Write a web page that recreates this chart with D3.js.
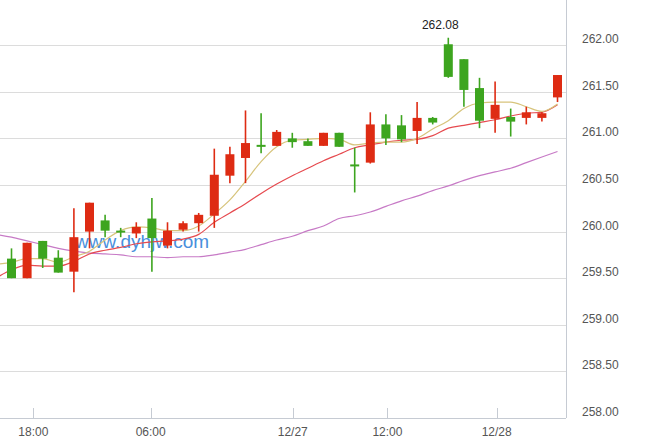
<!DOCTYPE html>
<html><head><meta charset="utf-8">
<script src="https://cdn.jsdelivr.net/npm/d3@7"></script>
<style>html,body{margin:0;padding:0;background:#fff;}svg{display:block;}</style>
</head><body>
<svg id="chart" width="652" height="442"></svg>
<script>
// ---- data ----
const opens  = [259.71,259.50,259.90,259.72,259.57,260.00,260.12,260.00,259.98,260.14,259.85,260.02,260.09,260.17,260.60,260.79,260.92,260.92,261.00,260.97,260.92,261.06,260.71,260.74,261.15,261.14,261.08,261.22,262.01,261.85,261.54,261.21,261.23,261.22,261.22,261.44];
const highs  = [259.82,259.88,259.90,259.80,260.25,260.31,260.18,260.04,260.10,260.36,260.10,260.11,260.20,260.89,260.91,261.30,261.27,261.09,261.06,261.00,261.06,261.06,260.90,261.28,261.26,261.25,261.39,261.23,262.08,261.85,261.65,261.61,261.32,261.34,261.28,261.68];
const lows   = [259.50,259.50,259.61,259.56,259.35,259.82,259.94,259.94,259.93,259.57,259.82,260.00,260.00,260.04,260.52,260.52,260.84,260.92,260.90,260.92,260.92,260.91,260.42,260.73,260.93,260.96,260.94,261.15,261.65,261.34,261.11,261.06,261.02,261.15,261.18,261.39];
const closes = [259.50,259.88,259.71,259.56,259.94,260.31,260.01,259.99,260.05,259.93,260.01,260.09,260.18,260.61,260.83,260.95,260.91,261.07,260.96,260.92,261.06,260.91,260.70,261.15,261.00,260.99,261.22,261.17,261.66,261.52,261.19,261.36,261.18,261.28,261.27,261.68];
// moving averages, first value belongs to the bar before the visible window (index -1)
const maFast = [259.65,259.67,259.71,259.71,259.67,259.73,259.79,259.91,260.01,260.05,260.04,260.01,260.01,260.06,260.19,260.34,260.54,260.75,260.91,260.98,260.99,261.00,260.99,260.93,260.95,260.96,260.96,261.00,261.10,261.19,261.32,261.38,261.39,261.39,261.34,261.29,261.37];
const maMid  = [259.50,259.59,259.64,259.63,259.63,259.68,259.76,259.80,259.83,259.87,259.89,259.90,259.92,259.97,260.10,260.20,260.30,260.41,260.51,260.60,260.68,260.76,260.83,260.90,260.93,260.96,260.98,260.99,261.03,261.11,261.14,261.17,261.20,261.24,261.27,261.28,261.36];
const maSlow = [259.97,259.94,259.90,259.86,259.82,259.79,259.77,259.76,259.75,259.73,259.73,259.72,259.73,259.73,259.75,259.78,259.81,259.86,259.91,259.95,260.01,260.06,260.14,260.17,260.21,260.27,260.33,260.38,260.44,260.49,260.55,260.60,260.64,260.68,260.74,260.80,260.86];
const yTicks = [258.00,258.50,259.00,259.50,260.00,260.50,261.00,261.50,262.00];
const xTickLabels = ["18:00","06:00","12/27","12:00","12/28"];
const xTickIndex  = [1.4, 8.92, 18.03, 24.1, 31.1];
const maxLabel = "262.08";
const maxIndex = 28;
const watermark = "www.dyhjw.com";

// ---- layout ----
const svg = d3.select("#chart");
const plotRight = 566, plotBottom = 418;
const x = d3.scaleLinear().domain([0, 35]).range([11.5, 557.5]);
const y = d3.scaleLinear().domain([258, 262.5]).range([plotBottom, plotBottom - 4.5 * 93.2]);
const UP = "#de2b13", DOWN = "#3da51f";
const bodyW = 9;

// grid
svg.append("g").selectAll("line").data(yTicks.filter(v => v > 258)).join("line")
  .attr("x1", 0).attr("x2", plotRight)
  .attr("y1", d => Math.round(y(d)) + 0.5).attr("y2", d => Math.round(y(d)) + 0.5)
  .attr("stroke", "#dcdcdc").attr("stroke-width", 1);

// right axis labels
svg.append("g").selectAll("text").data(yTicks).join("text")
  .attr("x", 582).attr("y", d => y(d) - 2)
  .attr("font-family", "'Liberation Sans', Arial, sans-serif").attr("font-size", 12)
  .attr("fill", "#555").text(d => d.toFixed(2));

// axes lines
svg.append("line").attr("x1", plotRight + 0.5).attr("x2", plotRight + 0.5).attr("y1", 0).attr("y2", plotBottom)
  .attr("stroke", "#c6cbd3");
svg.append("line").attr("x1", 0).attr("x2", plotRight).attr("y1", plotBottom + 0.5).attr("y2", plotBottom + 0.5)
  .attr("stroke", "#c6cbd3");

// x ticks
const xt = svg.append("g");
xt.selectAll("line").data(xTickIndex).join("line")
  .attr("x1", d => Math.round(x(d)) + 0.5).attr("x2", d => Math.round(x(d)) + 0.5)
  .attr("y1", plotBottom - 10).attr("y2", plotBottom).attr("stroke", "#c6cbd3");
xt.selectAll("text").data(xTickLabels).join("text")
  .attr("x", (d, i) => x(xTickIndex[i])).attr("y", 436)
  .attr("text-anchor", "middle")
  .attr("font-family", "'Liberation Sans', Arial, sans-serif").attr("font-size", 12)
  .attr("fill", "#555").text(d => d);

// watermark
svg.append("text").attr("x", 75).attr("y", 248)
  .attr("font-family", "'Liberation Sans', Arial, sans-serif").attr("font-size", 19)
  .attr("fill", "#4a8fdc").text(watermark);

// clip for MA lines
svg.append("clipPath").attr("id", "clip").append("rect")
  .attr("x", 0).attr("y", 0).attr("width", plotRight).attr("height", plotBottom);

const line = d3.line().x((d, i) => x(i - 1)).y(d => y(d)).curve(d3.curveMonotoneX);
const mas = [[maSlow, "#c77ac6"], [maMid, "#e64a4f"], [maFast, "#d7c47c"]];
svg.append("g").attr("clip-path", "url(#clip)").selectAll("path").data(mas).join("path")
  .attr("d", d => line(d[0])).attr("fill", "none")
  .attr("stroke", d => d[1]).attr("stroke-width", 1.2);

// candles
const idx = d3.range(opens.length);
const cg = svg.append("g").selectAll("g").data(idx).join("g");
const col = i => closes[i] >= opens[i] ? UP : DOWN;
cg.append("line")
  .attr("x1", i => x(i)).attr("x2", i => x(i))
  .attr("y1", i => y(highs[i])).attr("y2", i => y(lows[i]))
  .attr("stroke", col).attr("stroke-width", 1.6);
cg.append("rect")
  .attr("x", i => x(i) - bodyW / 2)
  .attr("width", bodyW)
  .attr("y", i => Math.min(y(opens[i]), y(closes[i])) - (Math.abs(y(opens[i]) - y(closes[i])) < 2 ? 1 : 0))
  .attr("height", i => Math.max(2, Math.abs(y(opens[i]) - y(closes[i]))))
  .attr("fill", col);

// max label
svg.append("text").attr("x", x(maxIndex) - 8).attr("y", y(highs[maxIndex]) - 9)
  .attr("text-anchor", "middle")
  .attr("font-family", "'Liberation Sans', Arial, sans-serif").attr("font-size", 12)
  .attr("fill", "#222").text(maxLabel);
</script>
</body></html>
